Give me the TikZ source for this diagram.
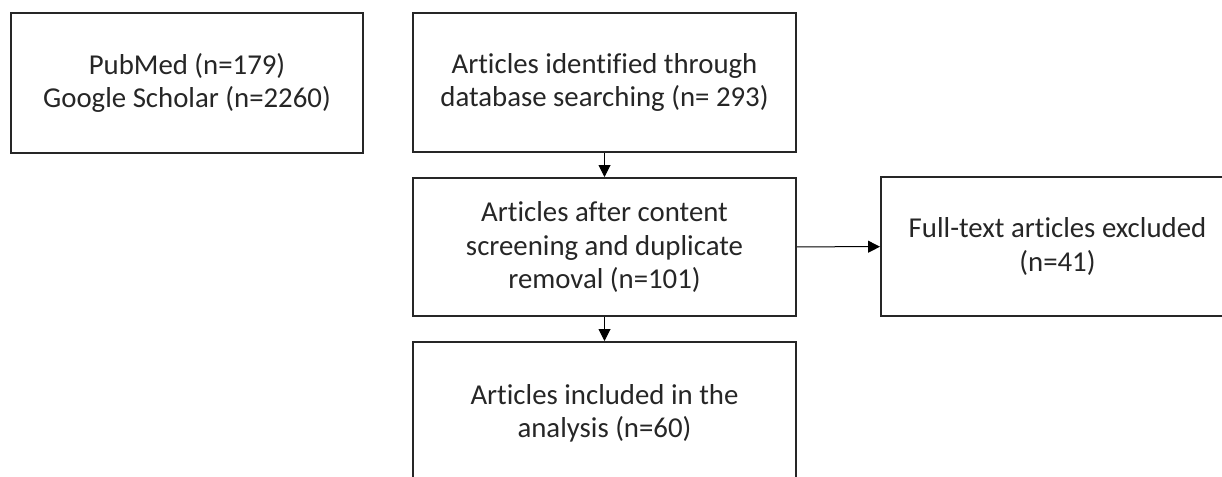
\documentclass[tikz,border=0pt]{standalone}
\usepackage{fontspec}
\setmainfont{Carlito}[Ligatures=NoCommon]
\usepackage{tikz}
\usetikzlibrary{arrows.meta}
\tikzstyle{flowbox} = [draw=black!85, fill=white, line width=1pt, text=black!85,
    rectangle, align=center, inner sep=0pt, font=\fontsize{14.4}{16.8}\selectfont]
\tikzstyle{flowarrow} =[draw=black, line width=0.5pt, -{Triangle[length=6pt,width=6pt]}]

\begin{document}
\begin{tikzpicture}[x=0.5pt, y=-0.5pt]
                \clip (0,0) rectangle (1222,477);
                \fill[white] (0,0) rectangle (1222,477);
                \node [flowbox, minimum width=352*0.5pt, minimum height=140*0.5pt] (sources) at (187,83)
                    {PubMed (n=179)\\Google Scholar (n=2260)};
                \node [flowbox, minimum width=383*0.5pt, minimum height=139*0.5pt] (identified) at (604.5,82.5)
                    {Articles identified through\\database searching (n= 293)};
                \node [flowbox, minimum width=383*0.5pt, minimum height=138*0.5pt] (screened) at (604.5,247)
                    {Articles after content\\screening and duplicate\\removal (n=101)};
                \node [flowbox, minimum width=353*0.5pt, minimum height=139*0.5pt] (excluded) at (1057.5,246.5)
                    {Full-text articles excluded\\(n=41)};
                \node [flowbox, minimum width=383*0.5pt, minimum height=143*0.5pt] (included) at (604.5,413.5)
                    {Articles included in the\\analysis (n=60)};
                \draw [flowarrow] (identified) -- (screened);
                \draw [flowarrow] (screened) -- (excluded);
                \draw [flowarrow] (screened) -- (included);
            \end{tikzpicture}
\end{document}
